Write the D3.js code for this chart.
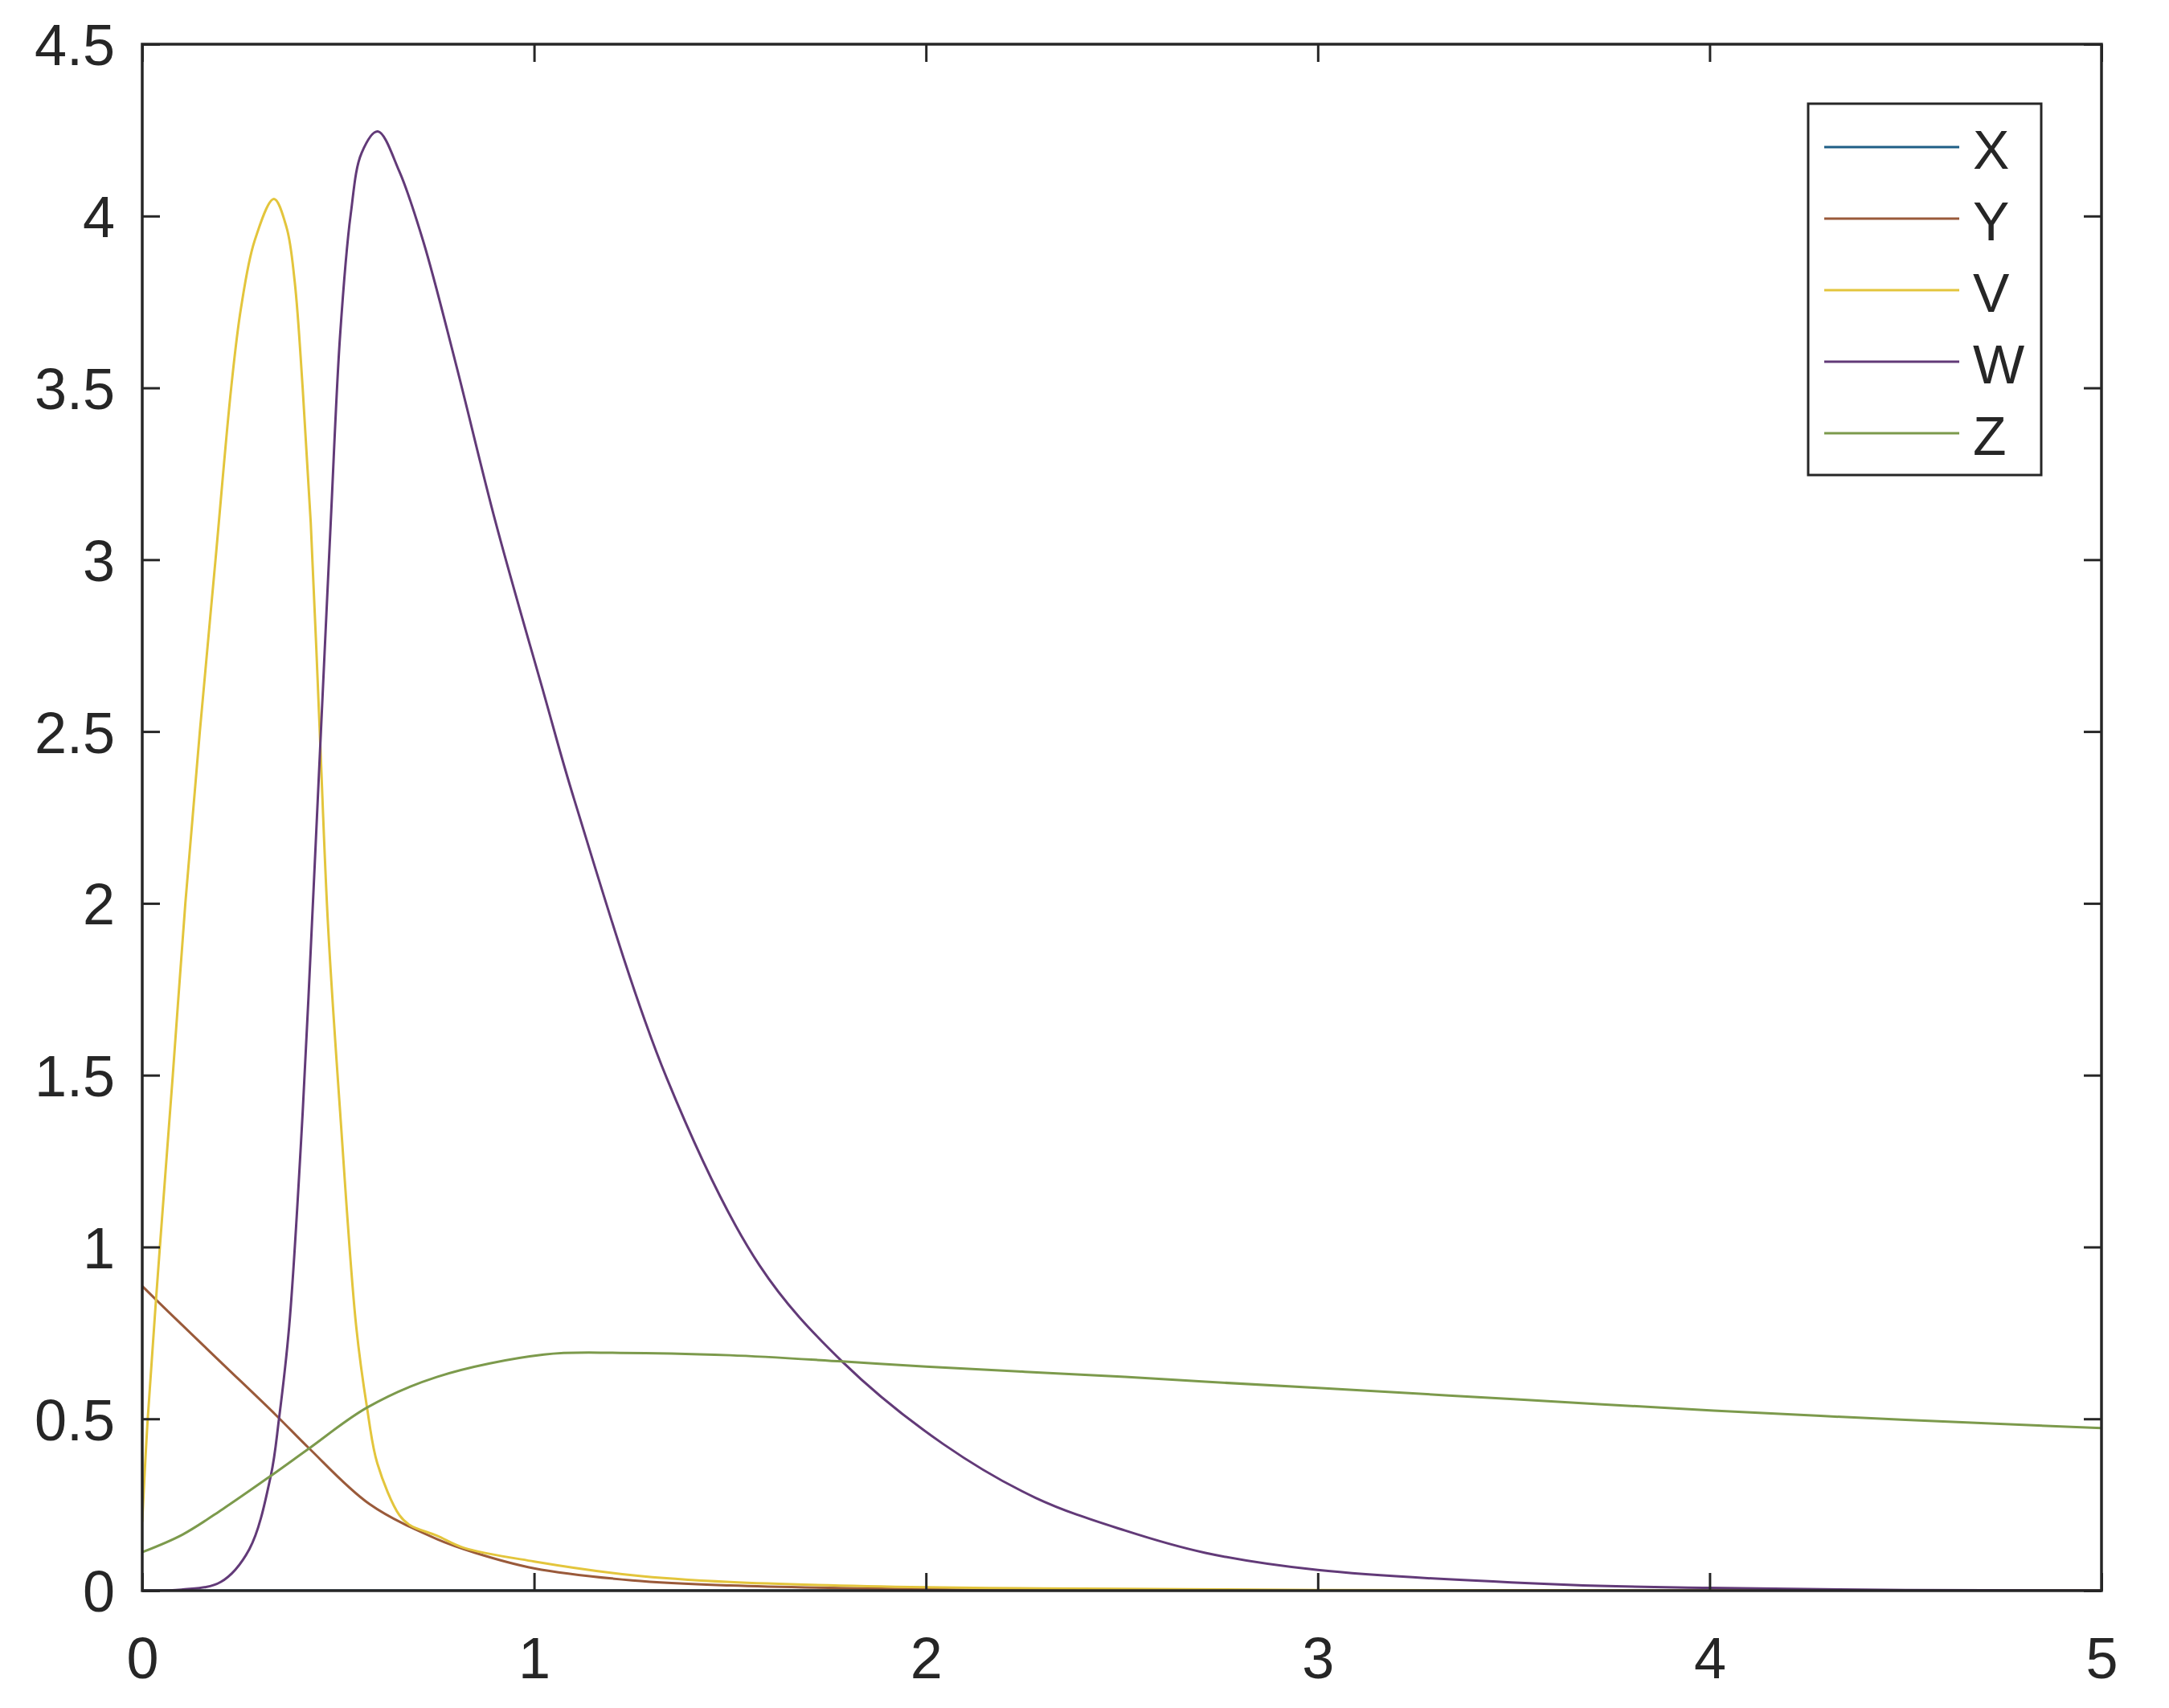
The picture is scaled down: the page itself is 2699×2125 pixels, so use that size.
<!DOCTYPE html>
<html lang="en">
  <head>
    <meta charset="UTF-8" />
    <title>Curves X Y V W Z</title>
    <script src="https://d3js.org/d3.v7.min.js"></script>
    <style>
      body { margin: 0; background: #fff; }
      text { font-family: "Liberation Sans", Arial, sans-serif; fill: #262626; }
    </style>
  </head>
  <body>
    <svg id="chart"></svg>

    <script>
      // Tick values
      const xTicks = [0, 1, 2, 3, 4, 5];
      const yTicks = [0, 0.5, 1, 1.5, 2, 2.5, 3, 3.5, 4, 4.5];

      // Series names (legend order) and colours
      const seriesNames = ["X", "Y", "V", "W", "Z"];
      const seriesColors = ["#1f5f86", "#9a5a3a", "#e3c53c", "#623a78", "#7c9a4c"];

      // Points, [x, value]
      const xPoints = [[0, 0], [1, 0], [2, 0], [3, 0], [4, 0], [5, 0]];

      const yPoints = [
        [0, 0.886], [0.068, 0.81], [0.205, 0.66], [0.342, 0.51], [0.426, 0.414],
        [0.58, 0.252], [0.752, 0.15], [0.85, 0.11], [1.0, 0.065], [1.25, 0.03],
        [1.5, 0.015], [2, 0.004], [2.5, 0.001], [3, 0], [4, 0], [5, 0],
      ];

      const vPoints = [
        [0, 0.2], [0.014, 0.5], [0.045, 1.0], [0.078, 1.5], [0.11, 2.0],
        [0.147, 2.5], [0.187, 3.0], [0.227, 3.5], [0.252, 3.732], [0.2865, 3.927],
        [0.336, 4.05], [0.3685, 3.966], [0.389, 3.81], [0.4095, 3.498], [0.43, 3.108],
        [0.453, 2.5], [0.474, 1.939], [0.505, 1.393], [0.546, 0.769], [0.574, 0.53],
        [0.6, 0.37], [0.656, 0.22], [0.684, 0.19], [0.752, 0.16], [0.82, 0.125],
        [1.0, 0.085], [1.25, 0.045], [1.5, 0.025], [2, 0.01], [2.5, 0.005],
        [3, 0.002], [4, 0], [5, 0],
      ];

      const wPoints = [
        [0, 0], [0.1, 0.003], [0.2, 0.025], [0.273, 0.12], [0.328, 0.334],
        [0.349, 0.5], [0.375, 0.769], [0.4095, 1.393], [0.433, 1.939], [0.456, 2.5],
        [0.481, 3.108], [0.505, 3.654], [0.532, 4.005], [0.56, 4.184], [0.601, 4.246],
        [0.656, 4.13], [0.717, 3.927], [0.799, 3.576], [0.902, 3.108], [1.025, 2.61],
        [1.103, 2.3], [1.339, 1.49], [1.575, 0.947], [1.786, 0.667], [2.045, 0.426],
        [2.28, 0.27], [2.508, 0.175], [2.713, 0.11], [3.0, 0.06], [3.64, 0.017],
        [4.0, 0.008], [4.5, 0.002], [5, 0],
      ];

      const zPoints = [
        [0, 0.112], [0.1025, 0.163], [0.205, 0.237], [0.328, 0.334], [0.426, 0.414],
        [0.574, 0.533], [0.752, 0.622], [1.025, 0.687], [1.22, 0.692], [1.5, 0.685],
        [1.786, 0.667], [2.0, 0.652], [2.508, 0.622], [2.713, 0.608], [3.0, 0.59],
        [3.5, 0.557], [4.01, 0.524], [4.5, 0.497], [5, 0.473],
      ];

      const seriesPoints = [xPoints, yPoints, vPoints, wPoints, zPoints];

      // Set dimensions and margins
      const margin = { top: 55, right: 84, bottom: 146, left: 177 },
        width = 2699 - margin.left - margin.right,
        height = 2125 - margin.top - margin.bottom;

      const ink = "#262626";
      const fontSize = 72;

      const svg = d3
        .select("#chart")
        .attr("width", width + margin.left + margin.right)
        .attr("height", height + margin.top + margin.bottom)
        .append("g")
        .attr("transform", `translate(${margin.left},${margin.top})`);

      // Scales
      const x = d3.scaleLinear().domain([0, 5]).range([0, width]);
      const y = d3.scaleLinear().domain([0, 4.5]).range([height, 0]);

      svg
        .append("clipPath")
        .attr("id", "plot-clip")
        .append("rect")
        .attr("width", width)
        .attr("height", height);

      // Lines
      const line = d3
        .line()
        .x((d) => x(d[0]))
        .y((d) => y(d[1]))
        .curve(d3.curveCatmullRom.alpha(0.5));

      svg
        .append("g")
        .attr("clip-path", "url(#plot-clip)")
        .selectAll("path")
        .data(seriesPoints)
        .enter()
        .append("path")
        .attr("d", line)
        .attr("fill", "none")
        .attr("stroke", (d, i) => seriesColors[i])
        .attr("stroke-width", 3);

      // Axes, ticks pointing inwards on all four sides
      const tickLen = 22;
      const styleAxis = (g) => {
        g.select(".domain").remove();
        g.selectAll("line").attr("stroke", ink).attr("stroke-width", 3);
        g.selectAll("text")
          .attr("font-size", fontSize)
          .attr("font-family", '"Liberation Sans", Arial, sans-serif')
          .attr("fill", ink);
      };
      const fmt = (d) => String(d);

      svg
        .append("g")
        .attr("transform", `translate(0,${height})`)
        .call(d3.axisBottom(x).tickValues(xTicks).tickFormat(fmt).tickSize(-tickLen).tickPadding(58))
        .call(styleAxis);

      svg
        .append("g")
        .call(d3.axisLeft(y).tickValues(yTicks).tickFormat(fmt).tickSize(-tickLen).tickPadding(34))
        .call(styleAxis)
        .selectAll("text")
        .attr("dy", "0.36em");

      svg
        .append("g")
        .call(d3.axisTop(x).tickValues(xTicks).tickFormat("").tickSize(-tickLen))
        .call(styleAxis);

      svg
        .append("g")
        .attr("transform", `translate(${width},0)`)
        .call(d3.axisRight(y).tickValues(yTicks).tickFormat("").tickSize(-tickLen))
        .call(styleAxis);

      // Box
      svg
        .append("rect")
        .attr("width", width)
        .attr("height", height)
        .attr("fill", "none")
        .attr("stroke", ink)
        .attr("stroke-width", 3.5);

      // Legend
      const legend = svg
        .append("g")
        .attr("transform", `translate(${2250 - margin.left},${129 - margin.top})`);

      legend
        .append("rect")
        .attr("width", 290)
        .attr("height", 462)
        .attr("fill", "#fff")
        .attr("stroke", ink)
        .attr("stroke-width", 3);

      const rows = legend
        .selectAll(".row")
        .data(seriesNames)
        .enter()
        .append("g")
        .attr("class", "row")
        .attr("transform", (d, i) => `translate(0,${54 + i * 89})`);

      rows
        .append("line")
        .attr("x1", 20)
        .attr("x2", 188)
        .attr("stroke", (d, i) => seriesColors[i])
        .attr("stroke-width", 3);

      rows
        .append("text")
        .attr("x", 205)
        .attr("y", 27)
        .attr("font-size", 68)
        .attr("fill", ink)
        .text((d) => d);
    </script>
  </body>
</html>
